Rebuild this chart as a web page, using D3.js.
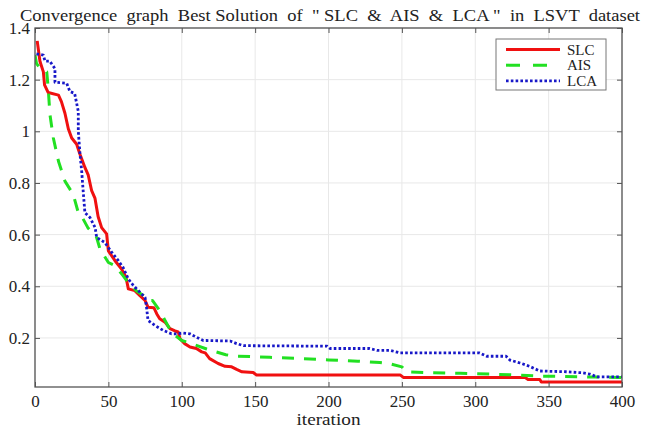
<!DOCTYPE html>
<html>
<head>
<meta charset="utf-8">
<script src="https://d3js.org/d3.v7.min.js"></script>
<style>
  body { margin: 0; background: #fff; }
  text { font-family: "Liberation Serif", "Times New Roman", "DejaVu Serif", serif; fill: #222; }
</style>
</head>
<body>
<svg id="chart" width="651" height="430"></svg>
<script>
// values
var slcIter = [1.5, 3.4, 5.7, 6.5, 9, 16, 18, 20.4, 22.7, 25, 28.4, 30.7, 34, 36.3, 38.6, 40.9, 43, 45.4, 48.8, 50, 54.5, 59, 62, 63.6, 68, 71.5, 75, 77, 81, 83, 85, 88.6, 92, 95.4, 97.6, 98.8, 102, 105.6, 110, 113.6, 116, 119, 124.8, 129.5, 134, 137.4, 141, 148.7, 151, 249, 251, 334, 336, 344, 345, 400];
var slcVal = [1.35, 1.27, 1.23, 1.18, 1.15, 1.14, 1.115, 1.07, 1.01, 0.974, 0.95, 0.91, 0.86, 0.83, 0.77, 0.74, 0.67, 0.627, 0.603, 0.537, 0.499, 0.467, 0.435, 0.39, 0.383, 0.364, 0.345, 0.319, 0.317, 0.293, 0.274, 0.261, 0.236, 0.227, 0.223, 0.197, 0.178, 0.165, 0.159, 0.146, 0.142, 0.12, 0.101, 0.09, 0.088, 0.078, 0.069, 0.066, 0.056, 0.056, 0.047, 0.047, 0.039, 0.039, 0.029, 0.029];

var aisIter = [0, 1, 4, 8, 9, 10.2, 12.5, 16, 20.4, 26, 29.5, 31, 36, 42, 44.3, 50, 54.5, 60, 62.5, 69, 73.8, 77, 80, 85, 87.4, 91, 94, 100, 106.5, 117, 122.7, 130, 135, 160, 180, 200, 220, 235, 242, 250, 253, 270, 290, 310, 330, 345, 400];
var aisVal = [1.295, 1.263, 1.24, 1.23, 1.166, 1.064, 0.974, 0.884, 0.807, 0.756, 0.685, 0.679, 0.627, 0.589, 0.544, 0.492, 0.48, 0.441, 0.422, 0.383, 0.364, 0.345, 0.345, 0.306, 0.28, 0.242, 0.216, 0.19, 0.178, 0.157, 0.147, 0.135, 0.13, 0.125, 0.12, 0.115, 0.11, 0.105, 0.1, 0.088, 0.069, 0.065, 0.063, 0.06, 0.056, 0.052, 0.047];

var lcaIter = [1, 5.7, 6.8, 10, 13.6, 13.6, 21.6, 23.8, 27, 29.5, 29.5, 30.7, 31.8, 33, 34, 37.5, 41, 42, 47.7, 52.3, 56.8, 60, 63.6, 67, 71.5, 75, 76, 77, 81.8, 87.4, 93, 96.5, 101, 105.6, 110, 114.7, 117, 133, 137.4, 142, 199, 201, 228, 233, 242, 248.7, 303, 307.8, 321, 323.7, 330.5, 337, 344, 362, 373, 378, 383, 400];
var lcaVal = [1.30, 1.295, 1.272, 1.272, 1.243, 1.19, 1.186, 1.154, 1.147, 1.077, 1.0, 0.91, 0.846, 0.756, 0.685, 0.666, 0.627, 0.589, 0.569, 0.531, 0.499, 0.473, 0.428, 0.403, 0.377, 0.357, 0.319, 0.268, 0.248, 0.229, 0.216, 0.216, 0.219, 0.216, 0.203, 0.19, 0.19, 0.188, 0.178, 0.17, 0.168, 0.159, 0.159, 0.152, 0.152, 0.142, 0.142, 0.129, 0.129, 0.114, 0.103, 0.09, 0.072, 0.069, 0.065, 0.06, 0.049, 0.049];

var xTicks = [0, 50, 100, 150, 200, 250, 300, 350, 400];
var yTicks = [0.2, 0.4, 0.6, 0.8, 1, 1.2, 1.4];

var svg = d3.select("#chart");
var margin = { top: 28, right: 29, bottom: 43, left: 35 };
var width = +svg.attr("width") - margin.left - margin.right;
var height = +svg.attr("height") - margin.top - margin.bottom;

var x = d3.scaleLinear().domain([0, 400]).range([0, width]);
var y = d3.scaleLinear().domain([0.01, 1.4]).range([height, 0]);

var g = svg.append("g")
    .attr("transform", "translate(" + margin.left + "," + margin.top + ")");

// grid
g.append("g").selectAll("line")
    .data(xTicks)
    .enter().append("line")
    .attr("x1", function(d) { return x(d); })
    .attr("x2", function(d) { return x(d); })
    .attr("y1", 0).attr("y2", height)
    .style("stroke", "#e8e8e8");

g.append("g").selectAll("line")
    .data(yTicks)
    .enter().append("line")
    .attr("y1", function(d) { return y(d); })
    .attr("y2", function(d) { return y(d); })
    .attr("x1", 0).attr("x2", width)
    .style("stroke", "#e8e8e8");

g.append("clipPath").attr("id", "clip")
    .append("rect").attr("width", width).attr("height", height);

var series = [
    { name: "SLC", iter: slcIter, val: slcVal, color: "#f01010", dash: null, w: 3 },
    { name: "AIS", iter: aisIter, val: aisVal, color: "#22e022", dash: "12,10", w: 3 },
    { name: "LCA", iter: lcaIter, val: lcaVal, color: "#1818c8", dash: "2.6,2.2", w: 2.8 }
];

var line = d3.line()
    .x(function(d) { return x(d[0]); })
    .y(function(d) { return y(d[1]); });

g.append("g").attr("clip-path", "url(#clip)")
    .selectAll("path")
    .data(series)
    .enter().append("path")
    .attr("d", function(s) { return line(d3.zip(s.iter, s.val)); })
    .style("fill", "none")
    .style("stroke", function(s) { return s.color; })
    .style("stroke-width", function(s) { return s.w; })
    .style("stroke-dasharray", function(s) { return s.dash; })
    .style("stroke-linejoin", "round");

// axes (box with inward ticks)
var axisColor = "#555";
function styleAxis(sel) {
    sel.attr("font-family", null).attr("font-size", null);
    sel.select(".domain").remove();
    sel.selectAll(".tick line").style("stroke", axisColor);
    sel.selectAll("text").style("font-size", "17px").style("fill", "#222");
}

g.append("g")
    .attr("transform", "translate(0," + height + ")")
    .call(d3.axisBottom(x).tickValues(xTicks).tickSize(-5).tickPadding(8).tickFormat(d3.format("d")))
    .call(styleAxis);

g.append("g")
    .call(d3.axisTop(x).tickValues(xTicks).tickSize(-5).tickFormat(""))
    .call(styleAxis);

g.append("g")
    .call(d3.axisLeft(y).tickValues(yTicks).tickSize(-5).tickPadding(5).tickFormat(d3.format("~g")))
    .call(styleAxis);

g.append("g")
    .attr("transform", "translate(" + width + ",0)")
    .call(d3.axisRight(y).tickValues(yTicks).tickSize(-5).tickFormat(""))
    .call(styleAxis);

g.append("rect")
    .attr("width", width).attr("height", height)
    .style("fill", "none")
    .style("stroke", axisColor)
    .style("stroke-width", 1.3);

// title and axis label
svg.append("text")
    .attr("x", 20).attr("y", 21)
    .attr("textLength", 620)
    .attr("lengthAdjust", "spacingAndGlyphs")
    .style("white-space", "pre")
    .style("font-size", "17px")
    .text('Convergence  graph  Best Solution  of  " SLC  &  AIS  &  LCA "  in  LSVT  dataset');

svg.append("text")
    .attr("x", margin.left + width / 2).attr("y", 425)
    .attr("text-anchor", "middle")
    .attr("textLength", 64)
    .attr("lengthAdjust", "spacingAndGlyphs")
    .style("font-size", "17px")
    .text("iteration");

// legend
var legend = svg.append("g").attr("transform", "translate(496,39)");
legend.append("rect")
    .attr("width", 110).attr("height", 51)
    .style("fill", "#fff")
    .style("stroke", "#777");

var items = legend.selectAll(".item")
    .data(series)
    .enter().append("g")
    .attr("class", "item")
    .attr("transform", function(d, i) { return "translate(0," + (10.5 + i * 15.7) + ")"; });

items.append("line")
    .attr("x1", 10).attr("x2", 64)
    .style("stroke", function(s) { return s.color; })
    .style("stroke-width", function(s) { return s.w; })
    .style("stroke-dasharray", function(s) { return s.name === "AIS" ? "14,13" : s.dash; });

items.append("text")
    .attr("x", 71).attr("dy", "0.35em")
    .style("font-size", "15px")
    .text(function(s) { return s.name; });
</script>
</body>
</html>
